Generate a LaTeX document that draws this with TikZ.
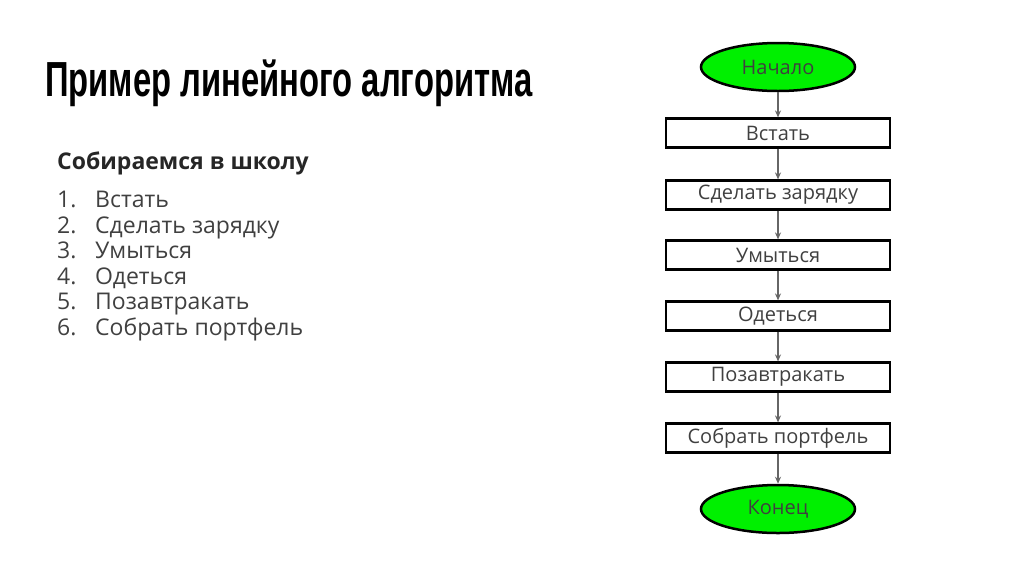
\documentclass[tikz,border=0pt]{standalone}
\usepackage{fontspec}
\setmainfont{Open Sans}
\newfontfamily\titlefont{Liberation Sans}
\usetikzlibrary{arrows.meta,shapes.geometric}
\definecolor{txt}{HTML}{404040}
\definecolor{grn}{HTML}{00F000}
\begin{document}
\begin{tikzpicture}[x=1pt,y=-1pt,
  stepbox/.style={draw=black,line width=2.2pt,minimum width=224pt,minimum height=29pt,inner sep=0pt,font=\fontsize{20}{24}\selectfont,text=txt},
  term/.style={ellipse,draw=black,line width=2.5pt,fill=grn,minimum width=154pt,minimum height=48pt,inner sep=0pt,font=\fontsize{20}{24}\selectfont,text=txt},
  conn/.style={draw=gray!80!black,line width=1.5pt,-{Stealth[length=7pt,width=6pt]}},
  item/.style={anchor=base west,inner sep=0pt,font=\fontsize{23}{26}\selectfont,text=txt}]
\useasboundingbox (0,0) rectangle (1024,574);
\node[anchor=west,inner sep=0pt,font=\titlefont\bfseries\fontsize{44}{48}\selectfont] (title) at (45,83) {\scalebox{0.745}[1.12]{Пример линейного алгоритма}};
\node[anchor=west,inner sep=0pt,font=\bfseries\fontsize{23}{26}\selectfont,text=black!85] (sub) at (57,163) {Собираемся в школу};
\foreach \n/\t/\y in {1/Встать/207,2/Сделать зарядку/233,3/Умыться/258,4/Одеться/284,5/Позавтракать/309,6/Собрать портфель/335}{
  \node[item] (num\n) at (57,\y) {\n.};
  \node[item] (it\n) at (95,\y) {\t};
}
\node[term] (start) at (778,67) {Начало};
\node[stepbox] (s1) at (778,133) {Встать};
\node[stepbox] (s2) at (778,195) {Сделать зарядку};
\node[stepbox] (s3) at (778,255) {Умыться};
\node[stepbox] (s4) at (778,316) {Одеться};
\node[stepbox] (s5) at (778,377) {Позавтракать};
\node[stepbox] (s6) at (778,438) {Собрать портфель};
\node[term] (end) at (778,509) {Конец};
\draw[conn] (start) -- (s1);
\draw[conn] (s1) -- (s2);
\draw[conn] (s2) -- (s3);
\draw[conn] (s3) -- (s4);
\draw[conn] (s4) -- (s5);
\draw[conn] (s5) -- (s6);
\draw[conn] (s6) -- (end);
\end{tikzpicture}
\end{document}
